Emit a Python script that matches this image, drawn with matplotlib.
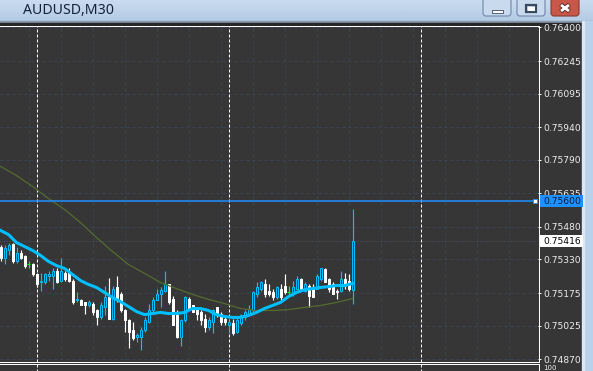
import numpy as np
import matplotlib.pyplot as plt
from matplotlib.patches import Rectangle, FancyBboxPatch
from matplotlib.colors import LinearSegmentedColormap
import matplotlib.transforms as mtransforms

W, H = 593, 371

title = "AUDUSD,M30"

# M30 bars, oldest first
opens = [0.75386, 0.75335, 0.75372, 0.75400, 0.75325, 0.75362, 0.75344, 0.75307, 0.75307, 0.75265,
         0.75224, 0.75224, 0.75256, 0.75256, 0.75279, 0.75233, 0.75270, 0.75270, 0.75233, 0.75141,
         0.75145, 0.75132, 0.75118, 0.75127, 0.75095, 0.75063, 0.75113, 0.75155, 0.75058, 0.75201,
         0.75173, 0.75099, 0.75049, 0.75003, 0.74971, 0.74971, 0.75003, 0.75040, 0.75095, 0.75145,
         0.75173, 0.75187, 0.75215, 0.75150, 0.75072, 0.74975, 0.75049, 0.75150, 0.75118, 0.75109,
         0.75086, 0.75058, 0.75017, 0.75040, 0.75109, 0.75081, 0.75058, 0.75030, 0.75035, 0.74994,
         0.75035, 0.75063, 0.75081, 0.75095, 0.75173, 0.75196, 0.75219, 0.75187, 0.75182, 0.75155,
         0.75196, 0.75210, 0.75182, 0.75173, 0.75196, 0.75242, 0.75187, 0.75210, 0.75196, 0.75196,
         0.75242, 0.75284, 0.75242, 0.75215, 0.75187, 0.75187, 0.75242, 0.75233, 0.75191]
highs = [0.75395, 0.75395, 0.75404, 0.75404, 0.75386, 0.75372, 0.75353, 0.75321, 0.75316, 0.75270,
         0.75270, 0.75270, 0.75279, 0.75293, 0.75293, 0.75335, 0.75275, 0.75289, 0.75242, 0.75178,
         0.75148, 0.75136, 0.75145, 0.75136, 0.75104, 0.75132, 0.75210, 0.75247, 0.75210, 0.75256,
         0.75178, 0.75104, 0.75058, 0.75040, 0.74989, 0.75017, 0.75063, 0.75127, 0.75155, 0.75196,
         0.75201, 0.75279, 0.75219, 0.75164, 0.75095, 0.75058, 0.75164, 0.75159, 0.75122, 0.75113,
         0.75095, 0.75081, 0.75063, 0.75104, 0.75113, 0.75090, 0.75063, 0.75049, 0.75058, 0.75063,
         0.75081, 0.75095, 0.75118, 0.75187, 0.75228, 0.75233, 0.75242, 0.75219, 0.75196, 0.75210,
         0.75219, 0.75261, 0.75210, 0.75233, 0.75256, 0.75247, 0.75228, 0.75219, 0.75215, 0.75261,
         0.75293, 0.75289, 0.75247, 0.75224, 0.75196, 0.75275, 0.75270, 0.75265, 0.75565]
lows = [0.75325, 0.75307, 0.75349, 0.75312, 0.75316, 0.75330, 0.75289, 0.75289, 0.75256, 0.75201,
        0.75187, 0.75219, 0.75233, 0.75196, 0.75220, 0.75224, 0.75233, 0.75224, 0.75127, 0.75132,
        0.75118, 0.75081, 0.75109, 0.75076, 0.75030, 0.75058, 0.75072, 0.75055, 0.75053, 0.75132,
        0.75086, 0.74998, 0.74920, 0.74957, 0.74948, 0.74915, 0.74994, 0.75035, 0.75086, 0.75141,
        0.75109, 0.75182, 0.75127, 0.75026, 0.74966, 0.74929, 0.75040, 0.75095, 0.75086, 0.75049,
        0.75026, 0.74994, 0.75007, 0.74989, 0.75067, 0.75026, 0.75030, 0.74989, 0.74980, 0.74989,
        0.75026, 0.75053, 0.75072, 0.75090, 0.75159, 0.75187, 0.75159, 0.75164, 0.75145, 0.75150,
        0.75145, 0.75173, 0.75164, 0.75164, 0.75191, 0.75187, 0.75182, 0.75113, 0.75155, 0.75193,
        0.75233, 0.75224, 0.75178, 0.75169, 0.75150, 0.75182, 0.75196, 0.75187, 0.75127]
closes = [0.75335, 0.75381, 0.75395, 0.75321, 0.75362, 0.75339, 0.75302, 0.75307, 0.75261, 0.75219,
          0.75233, 0.75265, 0.75265, 0.75279, 0.75224, 0.75279, 0.75242, 0.75233, 0.75136, 0.75150,
          0.75122, 0.75118, 0.75136, 0.75086, 0.75063, 0.75122, 0.75155, 0.75058, 0.75196, 0.75141,
          0.75095, 0.75049, 0.74998, 0.74966, 0.74984, 0.75007, 0.75049, 0.75095, 0.75145, 0.75173,
          0.75191, 0.75215, 0.75136, 0.75030, 0.74971, 0.75049, 0.75155, 0.75104, 0.75090, 0.75081,
          0.75049, 0.75017, 0.75049, 0.75095, 0.75072, 0.75040, 0.75040, 0.75040, 0.74989, 0.75049,
          0.75072, 0.75086, 0.75104, 0.75178, 0.75201, 0.75224, 0.75173, 0.75173, 0.75155, 0.75201,
          0.75155, 0.75178, 0.75182, 0.75201, 0.75242, 0.75196, 0.75219, 0.75164, 0.75159, 0.75252,
          0.75289, 0.75228, 0.75196, 0.75173, 0.75178, 0.75242, 0.75215, 0.75196, 0.75416]

# moving averages
ma_fast_idx = list(range(0, 89, 2))
ma_fast = [0.75464, 0.75445, 0.75408, 0.75390, 0.75372, 0.75349, 0.75321, 0.75302, 0.75289, 0.75261,
           0.75233, 0.75215, 0.75201, 0.75178, 0.75155, 0.75136, 0.75113, 0.75090, 0.75076, 0.75081,
           0.75086, 0.75081, 0.75081, 0.75086, 0.75104, 0.75104, 0.75095, 0.75076, 0.75067, 0.75063,
           0.75063, 0.75072, 0.75086, 0.75104, 0.75118, 0.75132, 0.75159, 0.75178, 0.75191, 0.75196,
           0.75201, 0.75205, 0.75210, 0.75210, 0.75219]
ma_slow_idx = list(range(0, 89, 4))
ma_slow = [0.75759, 0.75717, 0.75667, 0.75611, 0.75561, 0.75500, 0.75431, 0.75367, 0.75307, 0.75266,
           0.75224, 0.75196, 0.75169, 0.75146, 0.75127, 0.75104, 0.75095, 0.75095, 0.75099, 0.75109,
           0.75118, 0.75132, 0.75150]

price_ticks = [0.76400, 0.76245, 0.76095, 0.75940, 0.75790, 0.75635,
               0.75480, 0.75330, 0.75175, 0.75025, 0.74870]
alert_level = 0.75600
bid = 0.75416
day_starts = [9, 57, 105]
sub_label = "100"

BG = '#363636'
GRID = '#3a4452'
UP = '#00bfff'
FONT = 'DejaVu Sans'
PX = 0.72  # one pixel in points

fig = plt.figure(figsize=(W / 100, H / 100), dpi=100)
fig.patch.set_facecolor(BG)


def frac(x0, y0, x1, y1):
    # pixel box (top-left origin) -> figure fraction rect
    return [x0 / W, 1 - y1 / H, (x1 - x0) / W, (y1 - y0) / H]


# window chrome drawn in pixel coordinates
chrome = fig.add_axes([0, 0, 1, 1], zorder=0)
chrome.set_xlim(0, W)
chrome.set_ylim(H, 0)
chrome.axis('off')
chrome.add_patch(Rectangle((0, 0), W, H, color=BG))
grad = np.linspace(0, 1, 50).reshape(-1, 1)
chrome.imshow(grad, extent=(0, W, 21, 0), aspect='auto', zorder=1,
              cmap=LinearSegmentedColormap.from_list('t', ['#cadcf0', '#b4cbe5']))
chrome.add_patch(Rectangle((0, 21), W, 1.5, color='#8a98ab', zorder=2))
chrome.add_patch(Rectangle((0, 22.5), W, 2.3, color='#272727', zorder=2))
chrome.add_patch(Rectangle((583, 21), 10, H - 21, color='#b9d1ea', zorder=2))
chrome.add_patch(Rectangle((582, 21), 1.6, H - 21, color='#dce7f3', zorder=2))
chrome.text(23, 10.5, title, fontsize=10.2, family='Noto Sans', color='#15233a',
            va='center', ha='left', zorder=3)

# caption buttons
for x0, face, edge in [(482, '#c9daee', '#6f86a6'), (516, '#c9daee', '#6f86a6'),
                       (550, '#c8574a', '#8a3a30')]:
    chrome.add_patch(FancyBboxPatch((x0 + 1, -4), 28, 20, boxstyle='round,pad=0,rounding_size=3',
                                    facecolor=face, edgecolor=edge, lw=0.8, zorder=3))
chrome.add_patch(Rectangle((492, 10), 11, 3, facecolor='white', edgecolor='#39495e', lw=0.6, zorder=4))
chrome.add_patch(Rectangle((526, 5), 10, 7, facecolor='none', edgecolor='#39495e', lw=1.6, zorder=4))
chrome.add_patch(Rectangle((527.5, 7.3), 7, 3.4, facecolor='white', edgecolor='none', zorder=4))
chrome.plot([560.5, 569.5], [4.5, 11.5], color='#5a2a24', lw=3.2, zorder=4, solid_capstyle='butt')
chrome.plot([560.5, 569.5], [11.5, 4.5], color='#5a2a24', lw=3.2, zorder=4, solid_capstyle='butt')
chrome.plot([561, 569], [5, 11], color='white', lw=2.0, zorder=5, solid_capstyle='butt')
chrome.plot([561, 569], [11, 5], color='white', lw=2.0, zorder=5, solid_capstyle='butt')

# chart frame
for xs, ys in [([0, 538.5], [25.5, 25.5]), ([538.5, 538.5], [25.5, 361.5]),
               ([0, 538.5], [361.5, 361.5]), ([0, 538.5], [363.5, 363.5]),
               ([538.5, 538.5], [363.5, H])]:
    chrome.plot(xs, ys, color='white', lw=PX, zorder=3, snap=True)
chrome.text(543, 370.9, sub_label, fontsize=5, family=FONT, color='#eeeeee',
            va='bottom', ha='left', zorder=3)

# main price chart
ax = fig.add_axes(frac(0, 26, 538, 361), zorder=1)
ax.set_facecolor('none')
ax.set_xlim(-0.125, 134.375)
ax.set_ylim(0.748621, 0.764064)
for s in ax.spines.values():
    s.set_visible(False)
ax.set_xticks([])
ax.yaxis.tick_right()
ax.set_yticks(price_ticks)
ax.set_yticklabels([f"{p:.5f}" for p in price_ticks])
ax.tick_params(axis='y', length=2.4, width=PX, color='white', pad=1.6,
               labelsize=6.6, labelcolor='#eeeeee')
for lbl in ax.get_yticklabels():
    lbl.set_family(FONT)

for p in price_ticks:
    ax.axhline(p, color=GRID, lw=PX, ls=(0, (3, 3)), zorder=0.5, snap=True)
for gx in np.arange(7, 135, 8):
    ax.axvline(gx, color=GRID, lw=PX, ls=(0, (3, 3)), zorder=0.5, snap=True)
for d in day_starts:
    ax.axvline(d, ymin=-0.035, ymax=1, color='white', lw=PX, ls=(0, (3, 2)),
               zorder=1, clip_on=False, snap=True)

ax.axhline(bid, color='#4d5766', lw=PX, ls=(0, (1, 2)), zorder=0.6, snap=True)

o = np.array(opens)
h = np.array(highs)
l = np.array(lows)
c = np.array(closes)
idx = np.arange(len(o))
top = np.maximum(o, c)
bot = np.minimum(o, c)
up = c > o
dn = c < o
flat = c == o

for mask, col in [(up, UP), (dn, 'white'), (flat, '#00ff00')]:
    ax.vlines(idx[mask], top[mask], h[mask], color=col, lw=0.85, zorder=2, snap=True)
    ax.vlines(idx[mask], l[mask], bot[mask], color=col, lw=0.85, zorder=2, snap=True)
ax.bar(idx[up], (top - bot)[up], bottom=bot[up], width=0.5, facecolor=BG,
       edgecolor=UP, lw=PX, zorder=2, snap=True)
ax.bar(idx[dn], (top - bot)[dn], bottom=bot[dn], width=0.5, facecolor='white',
       edgecolor='white', lw=PX, zorder=2, snap=True)
ax.hlines(o[flat], idx[flat] - 0.375, idx[flat] + 0.375, color='#00ff00', lw=PX,
          zorder=2, snap=True)

ax.plot(ma_slow_idx, ma_slow, color='#556b2f', lw=0.9, zorder=3)
ax.plot(ma_fast_idx, ma_fast, color=UP, lw=2.2, zorder=4)

ax.axhline(alert_level, color='#1e90ff', lw=1.1, zorder=5)
ax.plot([133.6], [alert_level], marker='s', ms=3, mfc='white', mec='#1e90ff', mew=0.6,
        zorder=6, clip_on=False)

lab = mtransforms.blended_transform_factory(fig.transFigure, ax.transData)
ax.add_patch(Rectangle((540 / W, alert_level - 0.00028), 43 / W, 0.00056, transform=lab,
                       facecolor='#1e90ff', edgecolor='none', clip_on=False, zorder=7))
ax.text(543 / W, alert_level, f"{alert_level:.5f}", transform=lab, fontsize=6.6, family=FONT,
        color='#0b1a2e', va='center_baseline', ha='left', zorder=8, clip_on=False)
ax.add_patch(Rectangle((540 / W, bid - 0.00028), 43 / W, 0.00056, transform=lab,
                       facecolor='white', edgecolor='none', clip_on=False, zorder=7))
ax.text(543 / W, bid, f"{bid:.5f}", transform=lab, fontsize=6.6, family=FONT,
        color='black', va='center_baseline', ha='left', zorder=8, clip_on=False)

fig.savefig('out.png', dpi=100, facecolor=fig.get_facecolor())
